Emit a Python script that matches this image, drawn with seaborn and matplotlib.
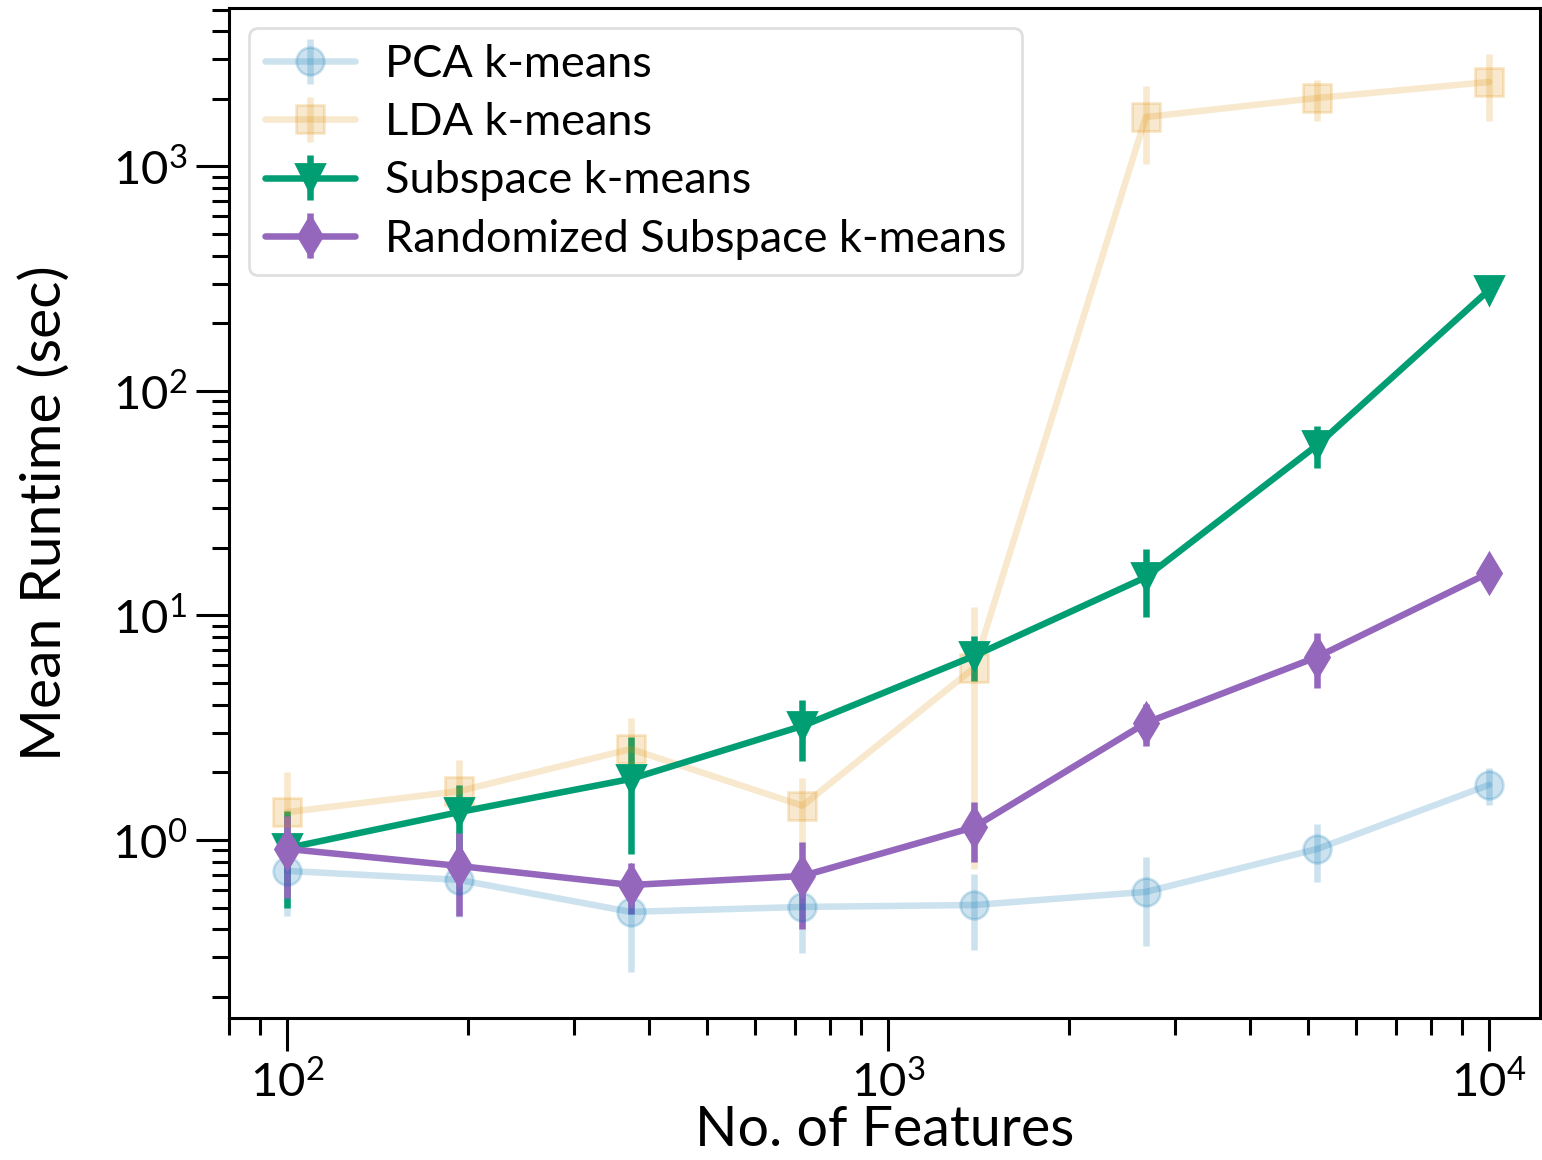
import numpy as np
import matplotlib
matplotlib.use("Agg")
import matplotlib.pyplot as plt
import seaborn as sns

# Number of features (log-spaced from 1e2 to 1e4)
n_features = [100, 193, 373, 720, 1389, 2683, 5179, 10000]

pca_mean = [0.728, 0.664, 0.478, 0.503, 0.513, 0.587, 0.912, 1.76]
pca_err = [0.27, 0.21, 0.22, 0.19, 0.19, 0.25, 0.26, 0.33]

lda_mean = [1.33, 1.65, 2.54, 1.42, 5.84, 1660, 2019, 2379]
lda_err = [0.68, 0.62, 0.95, 0.47, 5.1, 630, 420, 780]

sub_mean = [0.92, 1.33, 1.87, 3.22, 6.6, 14.8, 57.5, 282]
sub_err = [0.42, 0.43, 1.0, 0.97, 1.5, 5.0, 12.0, 15.0]

rsub_mean = [0.912, 0.766, 0.63, 0.691, 1.14, 3.32, 6.54, 15.5]
rsub_err = [0.36, 0.31, 0.16, 0.29, 0.34, 0.7, 1.8, 1.5]

labels = ["PCA k-means", "LDA k-means", "Subspace k-means",
          "Randomized Subspace k-means"]

sns.set_theme(style="ticks")
plt.rcParams["font.family"] = ["Lato", "DejaVu Sans"]
plt.rcParams["mathtext.fontset"] = "custom"
plt.rcParams["mathtext.rm"] = "Lato"
plt.rcParams["mathtext.it"] = "Lato:italic"
plt.rcParams["mathtext.bf"] = "Lato:bold"
for key in ["text.color", "axes.labelcolor", "xtick.color", "ytick.color",
            "axes.edgecolor"]:
    plt.rcParams[key] = "black"

cb = sns.color_palette("colorblind")
colors = [cb[0], cb[1], cb[2], "#9467bd"]
markers = ["o", "s", "v", "d"]
alphas = [0.2, 0.2, 1.0, 1.0]
means = [pca_mean, lda_mean, sub_mean, rsub_mean]
errs = [pca_err, lda_err, sub_err, rsub_err]

fig = plt.figure(figsize=(15.42, 11.6), dpi=100)
ax = fig.add_axes([229 / 1542, 142 / 1160, (1540 - 229) / 1542, (1018 - 8) / 1160])

for m, e, c, mk, a, lab in zip(means, errs, colors, markers, alphas, labels):
    ax.errorbar(n_features, m, yerr=e, color=c, marker=mk, markersize=20,
                linewidth=4.7, elinewidth=4.7, capsize=0, alpha=a,
                markeredgewidth=2, label=lab)

ax.set_xscale("log")
ax.set_yscale("log")
ax.set_xlim(80, 12150)
ax.set_ylim(0.161, 5080)

ax.set_xlabel("No. of Features", fontsize=40, labelpad=0)
ax.set_ylabel("Mean Runtime (sec)", fontsize=41, labelpad=30)
ax.tick_params(axis="both", which="major", labelsize=34, length=24,
               width=2.2, direction="out", pad=6)
ax.tick_params(axis="both", which="minor", length=12, width=2.2,
               direction="out")
for sp in ax.spines.values():
    sp.set_linewidth(2.2)
    sp.set_color("black")

leg = ax.legend(loc="upper left", fontsize=32.5, frameon=True, fancybox=True,
                handlelength=2.0, handletextpad=0.65, labelspacing=0.38,
                borderpad=0.35, borderaxespad=0.45)
leg.get_frame().set_edgecolor("#d8d8d8")
leg.get_frame().set_linewidth(2)

fig.savefig("out.png", dpi=100)
